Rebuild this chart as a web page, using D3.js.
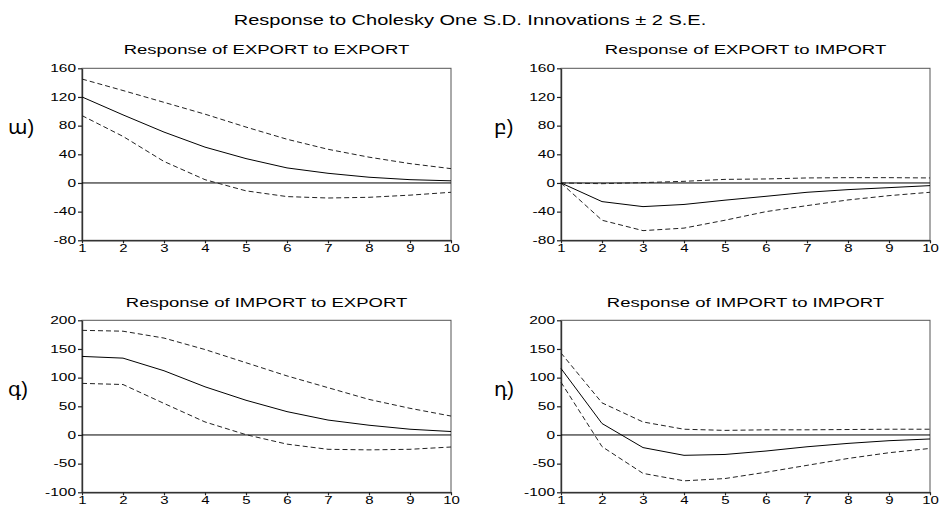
<!DOCTYPE html>
<html>
<head>
<meta charset="utf-8">
<script src="https://cdnjs.cloudflare.com/ajax/libs/d3/7.8.5/d3.min.js"></script>
<style>
  body { margin: 0; background: #fff; }
  svg text { font-family: "Liberation Sans", Arial, "DejaVu Sans", sans-serif; fill: #000; }
</style>
</head>
<body>
<script>
// periods on the x axis
var steps = [1, 2, 3, 4, 5, 6, 7, 8, 9, 10];

var mainTitle = "Response to Cholesky One S.D. Innovations \u00b1 2 S.E.";
var panelTitles = ["Response of EXPORT to EXPORT", "Response of EXPORT to IMPORT",
                   "Response of IMPORT to EXPORT", "Response of IMPORT to IMPORT"];
var panelLabels = ["ա)", "բ)", "գ)", "դ)"];

var yTicksExport = [-80, -40, 0, 40, 80, 120, 160];
var yTicksImport = [-100, -50, 0, 50, 100, 150, 200];

// EXPORT to EXPORT
var exExResp  = [120, 95, 71, 50, 34, 21, 13.5, 8, 4.6, 3];
var exExUpper = [145, 129, 112.5, 96, 78, 61, 47, 36, 27, 20];
var exExLower = [94, 65, 30, 4.6, -11, -19, -21, -20, -17, -13];

// EXPORT to IMPORT
var exImResp  = [0, -26, -33, -30, -24, -18.6, -13, -9.3, -6.5, -3.7];
var exImUpper = [0, -1, 0.5, 2.3, 5, 5.6, 7, 7.4, 7.4, 7];
var exImLower = [0, -52, -66.5, -63, -52, -40, -31.6, -23.7, -17.7, -13];

// IMPORT to EXPORT
var imExResp  = [137, 134, 112, 84, 60.5, 40.7, 26, 17, 10, 6];
var imExUpper = [182.5, 181, 169, 149, 126, 103, 82.5, 62, 46.5, 33];
var imExLower = [90, 88, 55, 22.7, 0.5, -16, -25, -26, -25, -21];

// IMPORT to IMPORT
var imImResp  = [116, 20, -22, -35.5, -34, -28, -20.6, -14.7, -10, -7];
var imImUpper = [143, 56, 22.7, 10, 8, 9, 9, 9.5, 10, 10];
var imImLower = [92, -20.3, -67, -80, -76, -65, -53, -41, -31, -23.5];

var panels = [
    { title: panelTitles[0], label: panelLabels[0], ticks: yTicksExport, resp: exExResp, upper: exExUpper, lower: exExLower, col: 0, row: 0 },
    { title: panelTitles[1], label: panelLabels[1], ticks: yTicksExport, resp: exImResp, upper: exImUpper, lower: exImLower, col: 1, row: 0 },
    { title: panelTitles[2], label: panelLabels[2], ticks: yTicksImport, resp: imExResp, upper: imExUpper, lower: imExLower, col: 0, row: 1 },
    { title: panelTitles[3], label: panelLabels[3], ticks: yTicksImport, resp: imImResp, upper: imImUpper, lower: imImLower, col: 1, row: 1 }
];

var colX = [[82, 451], [561, 930]];
var rowY = [[68.3, 240.3], [320.3, 492.3]];
var titleY = [54, 307.5];
var labelY = [134, 396];
var labelX = [8, 494];

var svg = d3.select("body").append("svg").attr("width", 940).attr("height", 508);

// the old EViews output has every text stretched sideways
function stretch(sel, k) {
    sel.each(function () {
        var t = d3.select(this);
        var x = +t.attr("x") || 0;
        t.attr("transform", "translate(" + (x * (1 - k)) + ",0) scale(" + k + ",1)");
    });
}

var title = svg.append("text").attr("x", 470).attr("y", 25)
    .attr("text-anchor", "middle").style("font-size", "14px").text(mainTitle);
stretch(title, 1.43);

panels.forEach(function (p) {
    var xr = colX[p.col], yr = rowY[p.row];
    var x = d3.scaleLinear().domain([1, 10]).range(xr);
    var y = d3.scaleLinear().domain([p.ticks[0], p.ticks[p.ticks.length - 1]]).range([yr[1], yr[0]]);
    var g = svg.append("g");

    var st = g.append("text").attr("x", (xr[0] + xr[1]) / 2).attr("y", titleY[p.row])
        .attr("text-anchor", "middle").style("font-size", "12px").text(p.title);
    stretch(st, 1.54);

    g.append("text").attr("x", labelX[p.col]).attr("y", labelY[p.row])
        .style("font-size", "20px").text(p.label);

    g.append("rect").attr("x", xr[0]).attr("y", yr[0])
        .attr("width", xr[1] - xr[0]).attr("height", yr[1] - yr[0])
        .attr("fill", "none").attr("stroke", "#555").attr("stroke-width", 1);

    // plain hyphen for negatives, as in the original
    var ya = g.append("g").attr("transform", "translate(" + xr[0] + ",0)")
        .call(d3.axisLeft(y).tickValues(p.ticks).tickFormat(function (d) { return String(d); })
            .tickSize(4).tickPadding(2).tickSizeOuter(0));
    var xa = g.append("g").attr("transform", "translate(0," + yr[1] + ")")
        .call(d3.axisBottom(x).tickValues(steps).tickSize(3).tickPadding(2).tickSizeOuter(0));
    [ya, xa].forEach(function (a) {
        a.select(".domain").attr("stroke", "#333").attr("stroke-width", 1.4);
        a.selectAll(".tick line").attr("stroke", "#222").attr("stroke-width", 1.2);
        a.selectAll(".tick text").style("font-size", "10px").style("font-family", null);
    });
    stretch(ya.selectAll(".tick text"), 1.55);
    stretch(xa.selectAll(".tick text"), 1.5);

    g.append("line").attr("x1", xr[0]).attr("x2", xr[1])
        .attr("y1", y(0)).attr("y2", y(0)).attr("stroke", "#000").attr("stroke-width", 1);

    var line = d3.line().x(function (d, i) { return x(steps[i]); }).y(function (d) { return y(d); });

    [p.upper, p.lower].forEach(function (s) {
        g.append("path").attr("d", line(s)).attr("fill", "none")
            .attr("stroke", "#222").attr("stroke-width", 1).attr("stroke-dasharray", "5,3");
    });
    g.append("path").attr("d", line(p.resp)).attr("fill", "none")
        .attr("stroke", "#000").attr("stroke-width", 1);
});
</script>
</body>
</html>
